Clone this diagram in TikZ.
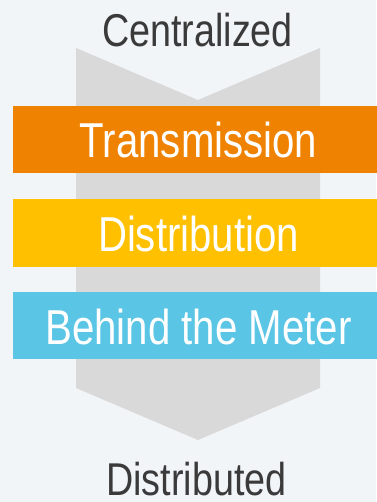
\documentclass[tikz,border=0pt]{standalone}
\usepackage{fontspec}
\setmainfont[FakeStretch=0.82]{Liberation Sans}
\usepackage{tikz}
\usetikzlibrary{positioning}
\definecolor{bgcolor}{RGB}{241,245,248}
\definecolor{chevroncolor}{RGB}{217,217,217}
\definecolor{labelcolor}{RGB}{58,58,58}
\definecolor{transcolor}{RGB}{239,130,0}
\definecolor{distcolor}{RGB}{255,192,0}
\definecolor{btmcolor}{RGB}{91,197,229}

\begin{document}
\begin{tikzpicture}[
    x=1pt, y=-1pt,
    endlabel/.style={anchor=base, inner sep=0pt, text=labelcolor, font=\fontsize{46}{50}\selectfont},
    band/.style={fill=#1, minimum width=371pt, minimum height=67pt, inner sep=0pt, text=white, text height=37pt, text depth=0pt, font=\fontsize{49}{53}\selectfont}
]
    % Background
    \fill[bgcolor] (0,0) rectangle (376,502);
    \useasboundingbox (0,0) rectangle (376,502);

    % Chevron
    \fill[chevroncolor] (76,48) -- (198,100) -- (320,48) -- (320,388) -- (198,440) -- (76,388) -- cycle;

    % Bands
    \node[band=transcolor] (trans) at (198.5,139.5) {Transmission};
    \node[band=distcolor] (dist) at (198.5,233) {Distribution};
    \node[band=btmcolor] (btm) at (198.5,325.5) {Behind the Meter};

    % End labels
    \node[endlabel] (central) at (197.5,47) {Centralized};
    \node[endlabel] (distrib) at (196.5,495) {Distributed};
\end{tikzpicture}
\end{document}
